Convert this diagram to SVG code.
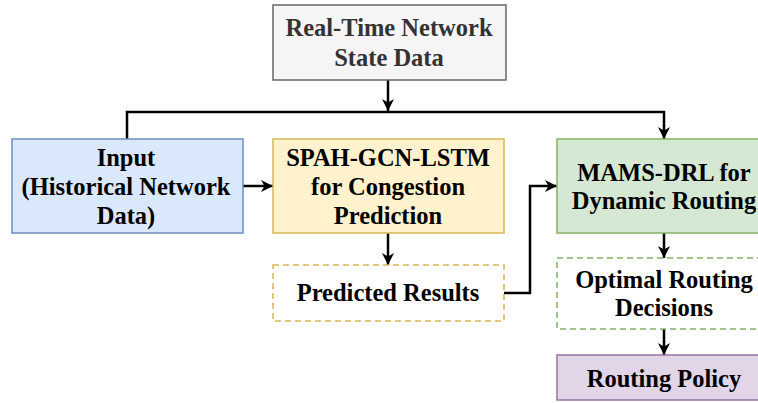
<svg xmlns="http://www.w3.org/2000/svg" width="758" height="403" viewBox="0 0 758 403">
  <style>
    .box { stroke-width: 1.5; }
    .dash { stroke-dasharray: 6 4; fill: #ffffff; }
    .label { font-family: "Liberation Serif", "Times New Roman", serif; font-weight: bold; font-size: 24.5px; text-anchor: middle; fill: #000000; }
    .grey { fill: #333333; }
    .edge { fill: none; stroke: #000000; stroke-width: 2.5; }
  </style>
  <defs>
    <marker id="arrow" markerUnits="userSpaceOnUse" markerWidth="14" markerHeight="14" refX="13" refY="7" orient="auto">
      <path d="M1,1 L13,7 L1,13 L4.5,7 Z" fill="#000000"/>
    </marker>
  </defs>
  <rect width="758" height="403" fill="#ffffff"/>

  <g id="connectors">
    <path class="edge" d="M388,80 V111" marker-end="url(#arrow)"/>
    <path class="edge" d="M127,139 V112 H664 V139" marker-end="url(#arrow)"/>
    <path class="edge" d="M243,186 H273" marker-end="url(#arrow)"/>
    <path class="edge" d="M388,233 V265" marker-end="url(#arrow)"/>
    <path class="edge" d="M504,293 H530 V186 H557" marker-end="url(#arrow)"/>
    <path class="edge" d="M664,233 V258" marker-end="url(#arrow)"/>
    <path class="edge" d="M664,329 V355" marker-end="url(#arrow)"/>
  </g>

  <g id="realtime-state">
    <rect class="box" x="273" y="5" width="233" height="75" fill="#f5f5f5" stroke="#666666"/>
    <text class="label grey" x="389" y="36">Real-Time Network</text>
    <text class="label grey" x="389" y="66">State Data</text>
  </g>

  <g id="input">
    <rect class="box" x="12" y="139" width="231" height="94" fill="#dae8fc" stroke="#6c8ebf"/>
    <text class="label" x="126" y="166">Input</text>
    <text class="label" x="126" y="195">(Historical Network</text>
    <text class="label" x="126" y="224">Data)</text>
  </g>

  <g id="spah-gcn-lstm">
    <rect class="box" x="273" y="139" width="231" height="94" fill="#fff2cc" stroke="#d6b656"/>
    <text class="label" x="388" y="166">SPAH-GCN-LSTM</text>
    <text class="label" x="388" y="195">for Congestion</text>
    <text class="label" x="388" y="224">Prediction</text>
  </g>

  <g id="predicted-results">
    <rect class="box dash" x="273" y="265" width="231" height="56" stroke="#d6b656"/>
    <text class="label" x="388" y="301">Predicted Results</text>
  </g>

  <g id="mams-drl">
    <rect class="box" x="557" y="139" width="214" height="94" fill="#d5e8d4" stroke="#82b366"/>
    <text class="label" x="664" y="181">MAMS-DRL for</text>
    <text class="label" x="664" y="209">Dynamic Routing</text>
  </g>

  <g id="optimal-decisions">
    <rect class="box dash" x="557" y="258" width="214" height="71" stroke="#82b366"/>
    <text class="label" x="664" y="288">Optimal Routing</text>
    <text class="label" x="664" y="316">Decisions</text>
  </g>

  <g id="routing-policy">
    <rect class="box" x="557" y="355" width="214" height="45" fill="#e1d5e7" stroke="#9673a6"/>
    <text class="label" x="664" y="387">Routing Policy</text>
  </g>
</svg>
